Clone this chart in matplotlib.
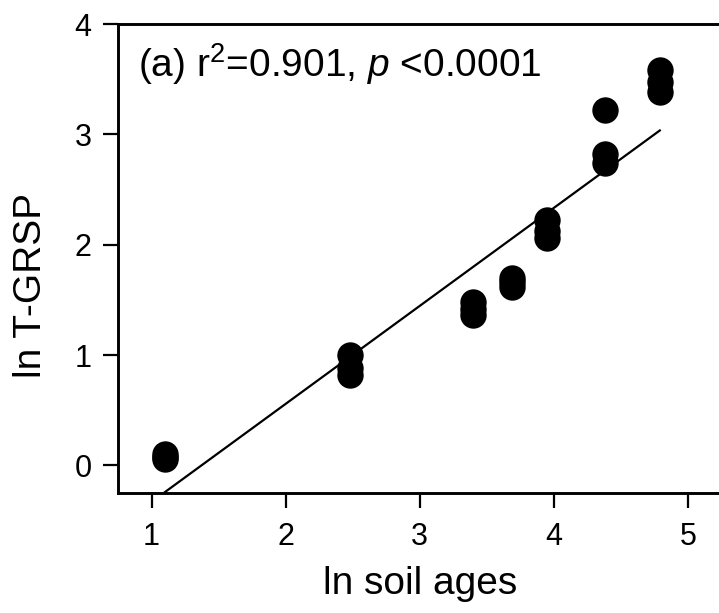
import matplotlib
matplotlib.use("Agg")
import matplotlib.pyplot as plt
import numpy as np

plt.rcParams["font.family"] = "Liberation Sans"
plt.rcParams["mathtext.fontset"] = "custom"
plt.rcParams["mathtext.rm"] = "Liberation Sans"
plt.rcParams["mathtext.it"] = "Liberation Sans:italic"

# ln soil ages (three replicates per site)
ln_age = [1.10, 1.10, 1.10,
          2.48, 2.48, 2.48,
          3.40, 3.40, 3.40,
          3.69, 3.69, 3.69,
          3.95, 3.95, 3.95,
          4.38, 4.38, 4.38,
          4.79, 4.79, 4.79]
# ln T-GRSP
ln_tgrsp = [0.06, 0.08, 0.10,
            1.00, 0.88, 0.82,
            1.48, 1.42, 1.36,
            1.70, 1.66, 1.62,
            2.22, 2.12, 2.06,
            3.22, 2.82, 2.74,
            3.58, 3.47, 3.38]

xticks = [1, 2, 3, 4, 5]
yticks = [0, 1, 2, 3, 4]

x = np.array(ln_age)
y = np.array(ln_tgrsp)
slope, icept = np.polyfit(x, y, 1)
xf = np.array([x.min(), x.max()])

fig = plt.figure(figsize=(7.19, 6.13), dpi=100)
ax = fig.add_axes([118 / 719, 1 - 493 / 613, (721.5 - 118) / 719, (493 - 24) / 613])

ax.plot(x, y, "o", color="black", markersize=19, markeredgewidth=0, zorder=3)
ax.plot(xf, slope * xf + icept, color="black", lw=1.6, zorder=2)

ax.set_xlim(0.75, 5.25)
ax.set_ylim(-0.25, 4)
ax.set_xticks(xticks)
ax.set_yticks(yticks)
ax.tick_params(direction="out", length=11, width=1.6, labelsize=22)
ax.tick_params(axis="x", pad=10)
ax.tick_params(axis="y", pad=8)
for s in ax.spines.values():
    s.set_linewidth(2.1)

ax.set_xlabel("ln soil ages", fontsize=28, labelpad=10)
ax.set_ylabel("ln T-GRSP", fontsize=28)
ax.yaxis.set_label_coords(-0.114, 0.443)

ax.text(0.033, 0.887, r"(a) r$^{2}$=0.901, $\it{p}$ <0.0001",
        transform=ax.transAxes, fontsize=28, va="baseline", ha="left")

fig.savefig("out.png", dpi=100)
